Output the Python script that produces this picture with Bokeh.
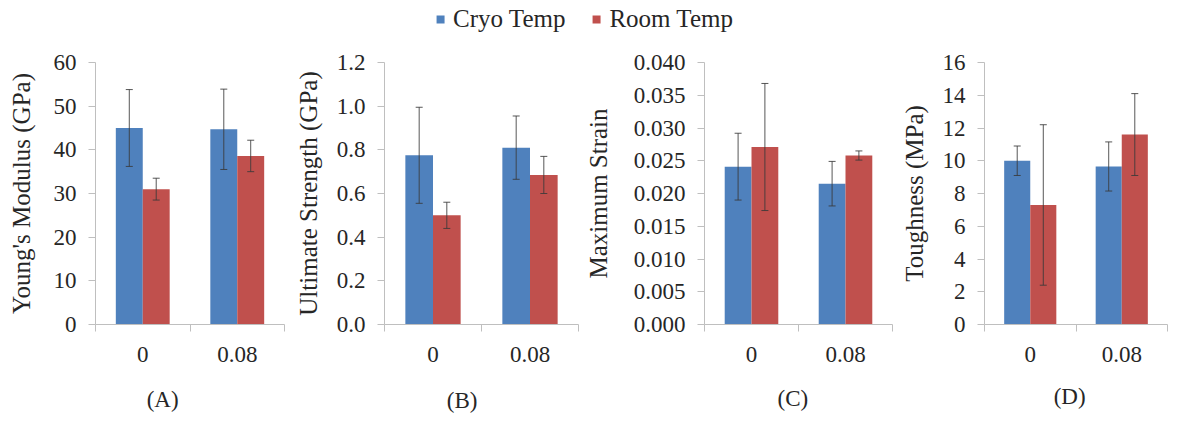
from bokeh.plotting import figure
from bokeh.models import (ColumnDataSource, FactorRange, Range1d, LinearAxis, FixedTicker,
                          NumeralTickFormatter, Legend, LegendItem, CustomJSTickFormatter)
from bokeh.transform import dodge
from bokeh.layouts import column, row
from bokeh.embed import file_html
from bokeh.resources import INLINE

# ---------------- data ----------------
categories = ["0", "0.08"]
series_names = ["Cryo Temp", "Room Temp"]

# (A) Young's Modulus (GPa)
young_cryo = [45.0, 44.7]
young_cryo_err = [8.8, 9.2]
young_room = [31.0, 38.6]
young_room_err = [2.5, 3.6]

# (B) Ultimate Strength (GPa)
strength_cryo = [0.775, 0.81]
strength_cryo_err = [0.22, 0.145]
strength_room = [0.50, 0.685]
strength_room_err = [0.06, 0.085]

# (C) Maximum Strain
strain_cryo = [0.0241, 0.0215]
strain_cryo_err = [0.0051, 0.0034]
strain_room = [0.0271, 0.0258]
strain_room_err = [0.0097, 0.0007]

# (D) Toughness (MPa)
tough_cryo = [10.0, 9.65]
tough_cryo_err = [0.9, 1.5]
tough_room = [7.3, 11.6]
tough_room_err = [4.9, 2.5]

y_titles = ["Young's Modulus (GPa)", "Ultimate Strength (GPa)", "Maximum Strain", "Toughness (MPa)"]
y_ticks_list = [
    [0, 10, 20, 30, 40, 50, 60],
    [0.0, 0.2, 0.4, 0.6, 0.8, 1.0, 1.2],
    [0.000, 0.005, 0.010, 0.015, 0.020, 0.025, 0.030, 0.035, 0.040],
    [0, 2, 4, 6, 8, 10, 12, 14, 16],
]
y_formats = ["0", "0.0", "0.000", "0"]
panel_tags = ["(A)", "(B)", "(C)", "(D)"]

panels_data = [
    (young_cryo, young_cryo_err, young_room, young_room_err),
    (strength_cryo, strength_cryo_err, strength_room, strength_room_err),
    (strain_cryo, strain_cryo_err, strain_room, strain_room_err),
    (tough_cryo, tough_cryo_err, tough_room, tough_room_err),
]

# ---------------- style / layout ----------------
FONT = "Liberation Serif"
TEXT = "#262626"
AXIS = "#bfbfbf"
ERR = "#3a3a3a"
colors = ["#4f81bd", "#c0504d"]
TOP_H = 36
ROW_H = 379
BAR_W = 0.285

# w: figure width, bl/br/bt: borders, fh: frame height, als: axis label standoff,
# tx: tag x (data), ts: tag standoff below category labels
layout = [
    dict(w=287, bl=95, br=3, bt=21, fh=269, als=16, tx=0.71, ts=22),
    dict(w=294, bl=97, br=3, bt=24, fh=265, als=12, tx=0.80, ts=23),
    dict(w=314, bl=121, br=3, bt=25, fh=266, als=19, tx=0.94, ts=21),
    dict(w=273, bl=89, br=1, bt=26, fh=267, als=12, tx=0.93, ts=19),
]


def make_panel(i):
    cryo, cryo_err, room, room_err = panels_data[i]
    L = layout[i]
    src = ColumnDataSource(dict(
        cat=categories,
        cryo=cryo, room=room,
        cryo_lo=[v - e for v, e in zip(cryo, cryo_err)],
        cryo_hi=[v + e for v, e in zip(cryo, cryo_err)],
        room_lo=[v - e for v, e in zip(room, room_err)],
        room_hi=[v + e for v, e in zip(room, room_err)],
    ))
    bb = ROW_H - L["bt"] - L["fh"]
    ticks = y_ticks_list[i]
    p = figure(x_range=FactorRange(factors=categories, range_padding=0),
               y_range=Range1d(ticks[0], ticks[-1]),
               width=L["w"], height=ROW_H, toolbar_location=None, output_backend="svg",
               x_axis_location=None, y_axis_location="left",
               min_border_left=L["bl"], min_border_right=L["br"],
               min_border_top=L["bt"], min_border_bottom=bb)
    p.outline_line_color = None
    p.grid.visible = False

    for key, off, col in (("cryo", -BAR_W / 2, colors[0]), ("room", BAR_W / 2, colors[1])):
        xs = dodge("cat", off, range=p.x_range)
        p.vbar(x=xs, top=key, width=BAR_W, source=src, fill_color=col, line_color=None)
        p.segment(x0=xs, y0=key + "_lo", x1=xs, y1=key + "_hi", source=src,
                  line_color=ERR, line_width=1, line_alpha=0.85)
        for end in ("_lo", "_hi"):
            p.scatter(x=xs, y=key + end, marker="dash", size=7, source=src,
                      line_color=ERR, line_width=1, line_alpha=0.85)

    ya = p.yaxis[0]
    ya.ticker = FixedTicker(ticks=ticks, minor_ticks=[])
    ya.formatter = NumeralTickFormatter(format=y_formats[i])
    ya.axis_line_color = AXIS
    ya.major_tick_line_color = AXIS
    ya.minor_tick_line_color = None
    ya.major_tick_out = 7
    ya.major_tick_in = 0
    ya.major_label_standoff = 12
    ya.major_label_text_font = FONT
    ya.major_label_text_font_size = "23px"
    ya.major_label_text_color = TEXT
    ya.axis_label = y_titles[i]
    ya.axis_label_text_font = FONT
    ya.axis_label_text_font_size = "25px"
    ya.axis_label_text_font_style = "normal"
    ya.axis_label_text_color = TEXT
    ya.axis_label_standoff = L["als"]

    n = len(categories)
    xa = LinearAxis(
        ticker=FixedTicker(ticks=[k + 0.5 for k in range(n)], minor_ticks=list(range(n + 1))),
        formatter=CustomJSTickFormatter(
            args=dict(labels=categories),
            code="const i = Math.floor(tick); return (i >= 0 && i < labels.length) ? labels[i] : '';"),
        axis_line_color=AXIS, major_tick_line_color=None,
        minor_tick_line_color=AXIS, minor_tick_out=7, minor_tick_in=0,
        major_tick_out=0, major_tick_in=0, major_label_standoff=15,
        major_label_text_font=FONT, major_label_text_font_size="23px",
        major_label_text_color=TEXT)
    p.add_layout(xa, "below")

    # panel tag "(A)".. shown as a second, line-less axis under the category axis
    tag_axis = LinearAxis(
        ticker=FixedTicker(ticks=[L["tx"]], minor_ticks=[]),
        formatter=CustomJSTickFormatter(args=dict(tag=panel_tags[i]), code="return tag;"),
        axis_line_color=None, major_tick_line_color=None, minor_tick_line_color=None,
        major_tick_out=0, major_tick_in=0, major_label_standoff=L["ts"],
        major_label_text_font=FONT, major_label_text_font_size="23px",
        major_label_text_color=TEXT)
    p.add_layout(tag_axis, "below")
    return p


panels = [make_panel(i) for i in range(4)]

# legend strip on top (proxy renderers have zero height, outside the visible range)
top = figure(width=sum(L["w"] for L in layout), height=TOP_H, toolbar_location=None,
             output_backend="svg", x_range=Range1d(0, 1), y_range=Range1d(0, 1),
             x_axis_location=None, y_axis_location=None, min_border=0)
top.outline_line_color = None
top.grid.visible = False
proxy = ColumnDataSource(dict(x=[5], top=[-5], bottom=[-5]))
r1 = top.vbar(x="x", top="top", bottom="bottom", width=0.1, source=proxy,
              fill_color=colors[0], line_color=None)
r2 = top.vbar(x="x", top="top", bottom="bottom", width=0.1, source=proxy,
              fill_color=colors[1], line_color=None)
leg = Legend(items=[LegendItem(label=series_names[0], renderers=[r1]),
                    LegendItem(label=series_names[1], renderers=[r2])],
             orientation="horizontal", location="top_center",
             glyph_width=10, glyph_height=10, label_standoff=8, spacing=26,
             padding=0, margin=5, border_line_color=None, background_fill_alpha=0,
             label_text_font=FONT, label_text_font_size="25px", label_text_color=TEXT)
top.add_layout(leg, "center")

p = column(top, row(*panels))
open("out.html", "w").write(file_html(p, INLINE))
